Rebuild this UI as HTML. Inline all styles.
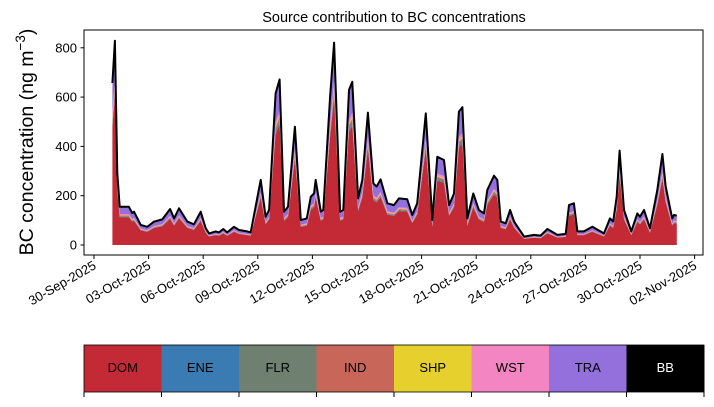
<!DOCTYPE html>
<html><head><meta charset="utf-8"><style>
body{margin:0;background:#fff;font-family:"Liberation Sans",sans-serif}
svg text{font-family:"Liberation Sans",sans-serif}
</style></head><body>
<svg id="c" width="714" height="402" viewBox="0 0 714 402">
<text x="394" y="22" font-size="14.5" text-anchor="middle">Source contribution to BC concentrations</text>
<g id="plot"></g>
<rect x="84" y="30" width="619" height="225" fill="none" stroke="#000" stroke-width="1"/>
<g id="axes"></g>
<text transform="translate(33,142) rotate(-90)" font-size="19.5" text-anchor="middle">BC concentration (ng m<tspan dy="-8" font-size="13.5">−3</tspan><tspan dy="8">)</tspan></text>
<g id="cbar"></g>
</svg>
<script>
const days=[1.01,1.15,1.28,1.41,1.92,2.10,2.20,2.57,2.93,3.30,3.75,4.18,4.40,4.67,5.13,5.49,5.86,6.14,6.32,6.69,6.87,7.10,7.32,7.69,7.97,8.42,8.61,9.16,9.43,9.62,9.98,10.20,10.44,10.66,11.04,11.36,11.69,11.91,12.09,12.18,12.46,12.60,12.97,13.19,13.52,13.70,14.01,14.19,14.51,14.74,15.05,15.35,15.53,15.75,16.12,16.48,16.76,17.21,17.49,17.76,18.23,18.59,18.86,19.23,19.51,19.78,20.05,20.24,20.51,20.84,21.15,21.43,21.61,21.98,22.16,22.35,22.62,22.86,23.08,23.63,24.18,24.54,24.91,25.46,25.92,26.10,26.37,26.56,26.92,27.38,28.02,28.35,28.53,28.72,28.88,29.12,29.52,29.85,30.00,30.22,30.55,30.95,31.23,31.41,31.77,31.87,32.02];
const total=[657,829,292,155,155,130,135,81,74,95,104,146,108,149,95,84,135,68,47,55,51,65,51,74,61,55,51,264,115,142,615,672,135,155,480,101,108,196,209,264,135,142,602,821,135,142,629,662,189,264,537,250,237,266,169,162,189,186,122,169,534,101,358,345,162,209,541,559,108,209,142,128,223,281,264,95,88,142,95,34,41,38,65,41,45,162,169,55,55,74,47,108,95,196,383,142,55,128,115,142,68,223,369,237,108,122,119];
const sources=["DOM","ENE","FLR","IND","SHP","WST","TRA","BB"];
const shares=[0.73,0.01,0.02,0.015,0.01,0.025,0.18,0.01];
const colors=["#c42a36","#3a7bb4","#6f8070","#c8665a","#e5d02e","#f285c2","#9370db","#000000"];
const yTicks=[0,200,400,600,800];
const xTickLabels=["30-Sep-2025","03-Oct-2025","06-Oct-2025","09-Oct-2025","12-Oct-2025","15-Oct-2025","18-Oct-2025","21-Oct-2025","24-Oct-2025","27-Oct-2025","30-Oct-2025","02-Nov-2025"];
const xTickDays=[0,3,6,9,12,15,18,21,24,27,30,33];

const NS="http://www.w3.org/2000/svg";
const xS=d=>94+d*18.2;
const yS=v=>245-v*0.2465;
function mk(t,a,p){const e=document.createElementNS(NS,t);for(const k in a)e.setAttribute(k,a[k]);p.appendChild(e);return e;}
const plot=document.getElementById('plot'),axes=document.getElementById('axes'),cbar=document.getElementById('cbar');
let cum=0;const n=Math.min(days.length,total.length);
for(let s=0;s<sources.length-1;s++){
  const lo=cum,hi=cum+shares[s];cum=hi;
  let d="";
  for(let i=0;i<n;i++)d+=(i?"L":"M")+xS(days[i]).toFixed(1)+","+yS(total[i]*hi).toFixed(1);
  for(let i=n-1;i>=0;i--)d+="L"+xS(days[i]).toFixed(1)+","+yS(total[i]*lo).toFixed(1);
  const p=mk('path',{d:d+"Z",fill:colors[s],stroke:'none'},plot);
  
  
}
let dl="";
for(let i=0;i<n;i++)dl+=(i?"L":"M")+xS(days[i]).toFixed(1)+","+yS(total[i]).toFixed(1);
const tl=mk('path',{d:dl,fill:'none',stroke:'#000','stroke-width':2,'stroke-linejoin':'round'},plot);


yTicks.forEach(v=>{
  const y=yS(v);
  const t=mk('line',{x1:80.5,x2:84,y1:y,y2:y,stroke:'#000'},axes);
  
  
  const l=mk('text',{x:77,y:y+4.5,'font-size':13,'text-anchor':'end'},axes);l.textContent=v;
  
  
});
xTickDays.forEach((d,i)=>{
  const x=xS(d);
  const t=mk('line',{x1:x,x2:x,y1:255,y2:259,stroke:'#000'},axes);
  
  
  const l=mk('text',{transform:`translate(${x+3},${268}) rotate(-30)`,'font-size':13,'text-anchor':'end'},axes);l.textContent=xTickLabels[i];
  
  
});
const w=620/sources.length;
sources.forEach((s,i)=>{
  const x=84+i*w;
  const r=mk('rect',{x:x,y:345,width:w+0.5,height:47,fill:colors[i]},cbar);
  
  
  const t=mk('text',{x:x+w/2,y:372,'font-size':13,'text-anchor':'middle',fill:s==="BB"?"#fff":"#000"},cbar);t.textContent=s;
  
  
});
for(let i=0;i<=sources.length;i++){
  const x=84+i*w;
  const t=mk('line',{x1:x,x2:x,y1:392,y2:397,stroke:'#000'},cbar);
  
  
}
const fr=mk('rect',{x:84,y:345,width:620,height:47,fill:'none',stroke:'#000','stroke-width':0.8},cbar);


</script>
</body></html>
